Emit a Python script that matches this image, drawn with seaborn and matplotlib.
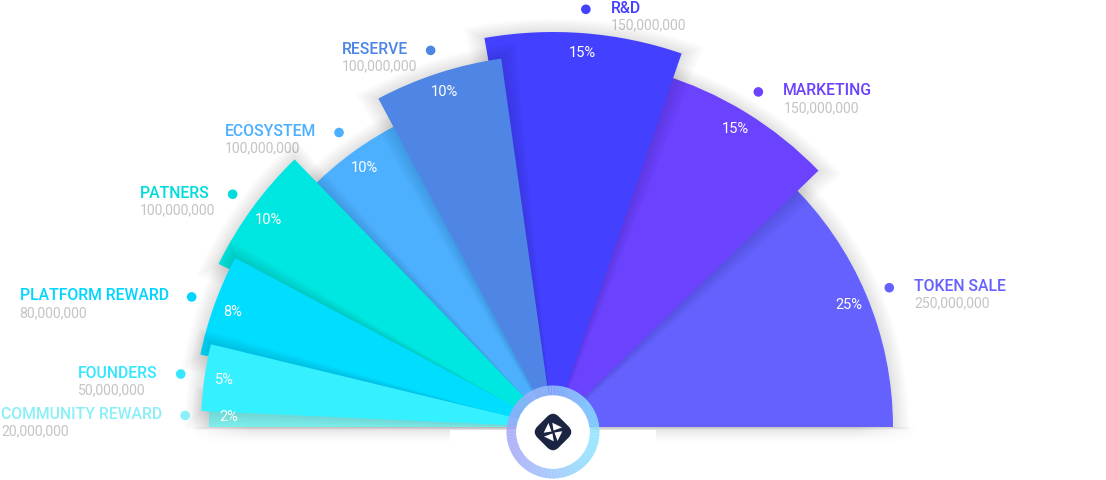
#! /usr/bin/env python3

import numpy as np
import pandas as pd
import seaborn as sns
import matplotlib
matplotlib.use('Agg')

import matplotlib.pyplot as plt
from matplotlib.patches import Wedge, Circle, Rectangle, FancyBboxPatch, Polygon
from matplotlib.transforms import Affine2D

# token allocation, in drawing order (counter-clockwise from the right)
labels = ["TOKEN SALE", "MARKETING", "R&D", "RESERVE", "ECOSYSTEM",
          "PATNERS", "PLATFORM REWARD", "FOUNDERS", "COMMUNITY REWARD"]
tokens = [250000000, 150000000, 150000000, 100000000, 100000000,
          100000000, 80000000, 50000000, 20000000]

# styling
colors = ["#6461FE", "#6B42FE", "#4440FF", "#4F86E6", "#4DB0FF",
          "#00E6E0", "#00DDFF", "#35F0FF", "#80F4F2"]
text_colors = ["#6461FE", "#6B42FE", "#4440FF", "#4F86E6", "#4DB0FF",
               "#00DCDC", "#00D6FF", "#35E6FF", "#8AF0F8"]
radii = [340, 369, 395, 372, 340, 372, 360, 352, 344]
layer_order = ["TOKEN SALE", "MARKETING", "R&D", "ECOSYSTEM", "RESERVE",
               "COMMUNITY REWARD", "PATNERS", "PLATFORM REWARD", "FOUNDERS"]


def build_table():
    df = pd.DataFrame({'label': labels, 'tokens': tokens, 'color': colors,
                       'text_color': text_colors, 'radius': radii})
    df['share'] = df['tokens'] / df['tokens'].sum()
    df['theta2'] = df['share'].cumsum() * 180
    df['theta1'] = df['theta2'] - df['share'] * 180
    df['mid'] = (df['theta1'] + df['theta2']) / 2
    return df.set_index('label')


def polar(r, deg):
    a = np.deg2rad(deg)
    return r * np.cos(a), r * np.sin(a)


def draw_fan(ax, df, pad=1.0):
    for z, name in enumerate(layer_order):
        row = df.loc[name]
        t1 = max(row['theta1'] - pad, 0)
        t2 = min(row['theta2'] + pad, 180)
        r = row['radius']
        base = 10 + z * 2
        # soft drop shadow
        for k in range(1, 8):
            ax.add_patch(Wedge((0, -0.4 * k), r + 2.3 * k, max(t1 - 0.35 * k, 0),
                               min(t2 + 0.35 * k, 180), fc='black', alpha=0.016,
                               lw=0, zorder=base))
        ax.add_patch(Wedge((0, 0), r, t1, t2, fc=row['color'], lw=0, zorder=base + 1))
        x, y = polar(r - 20, row['mid'])
        ax.text(x, y, f"{row['share'] * 100:.0f}%", color='white', fontsize=10.5,
                ha='center', va='center', zorder=60)


def draw_labels(fig, ax, df):
    names = []
    for name, row in df.iterrows():
        x, y = polar(row['radius'] + 24, row['mid'])
        ax.add_patch(Circle((x, y), 4.8, fc=row['text_color'], lw=0, zorder=60))
        right = row['mid'] < 90
        t = ax.annotate(name, (x, y), xytext=(25 if right else -23, 1),
                        textcoords='offset pixels', ha='left' if right else 'right',
                        va='center', color=row['text_color'], fontsize=11.3,
                        fontweight='medium')
        names.append((t, row, x, y))
    fig.canvas.draw()
    renderer = fig.canvas.get_renderer()
    for t, row, x, y in names:
        bb = t.get_window_extent(renderer)
        x0 = ax.transData.inverted().transform((bb.x0, bb.y0))[0]
        ax.text(x0, y - 16, f"{row['tokens']:,}", color='#C4C4C4', fontsize=10.1,
                ha='left', va='center')


def draw_base(ax):
    h, w = 40, 300
    ty = np.linspace(0, 1, h)[:, None]
    tx = np.linspace(-1, 1, w)[None, :]
    alpha = 0.2 * (1 - ty) ** 2 * np.clip((1 - np.abs(tx)) * 6, 0, 1)
    img = np.zeros((h, w, 4))
    img[..., :3] = 0.35
    img[..., 3] = alpha
    ax.imshow(img, extent=[-365, 365, -20, 0], origin='upper',
              interpolation='bilinear', zorder=2)
    ax.add_patch(Rectangle((-103, -53), 206, 50, fc='white', lw=0, zorder=3))


def draw_badge(ax, cx=0, cy=-5):
    ring = sns.blend_palette(["#A2A5F8", "#8BE2FF"], n_colors=91)
    for i in range(180):
        a = i * 2
        c = ring[int(round((np.cos(np.deg2rad(a + 1)) + 1) * 45))]
        ax.add_patch(Wedge((cx, cy), 46.5, a, a + 2.2, width=10, fc=c, lw=0,
                           alpha=0.85, zorder=70))
    ax.add_patch(Circle((cx, cy), 36.8, fc='white', lw=0, zorder=71))
    s = 30
    box = FancyBboxPatch((-s / 2, -s / 2), s, s, boxstyle="round,pad=0,rounding_size=8",
                         fc='#1B2440', lw=0, zorder=72)
    box.set_transform(Affine2D().rotate_deg(45).translate(cx, cy) + ax.transData)
    ax.add_patch(box)
    blade = np.array([[1.0, 1.2], [10.0, 1.2], [2.5, 9.0]])
    for k in range(4):
        a = np.deg2rad(90 * k + 20)
        rot = np.array([[np.cos(a), -np.sin(a)], [np.sin(a), np.cos(a)]])
        pts = blade @ rot.T + [cx, cy]
        ax.add_patch(Polygon(pts, closed=True, fc='white', lw=0, zorder=73))


if __name__ == '__main__':
    sns.set_theme(style='white')
    plt.rcParams['font.family'] = ['Roboto', 'DejaVu Sans']
    df = build_table()
    fig = plt.figure(figsize=(11.06, 4.8), dpi=100)
    ax = fig.add_axes([0, 0, 1, 1])
    draw_base(ax)
    draw_fan(ax, df)
    draw_badge(ax)
    ax.set_xlim(-553, 553)
    ax.set_ylim(-53, 427)
    ax.set_aspect('equal')
    ax.axis('off')
    draw_labels(fig, ax, df)
    fig.savefig('out.png', dpi=100, facecolor='white')
